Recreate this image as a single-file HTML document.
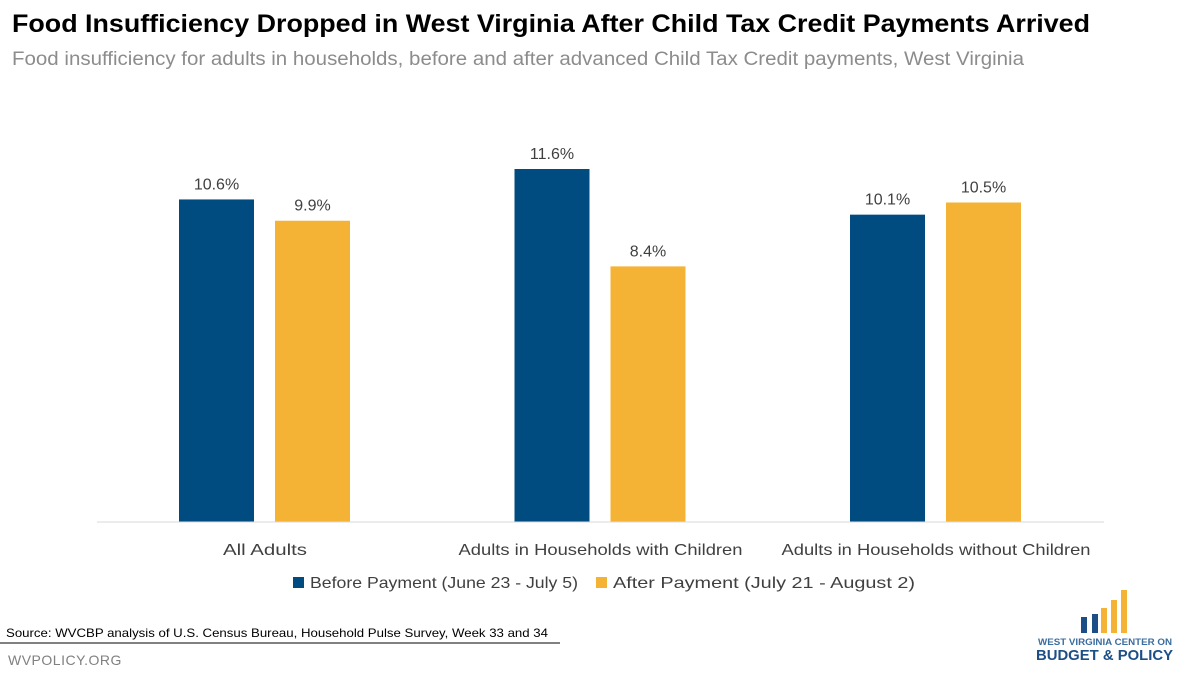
<!DOCTYPE html>
<html><head><meta charset="utf-8"><style>
body{margin:0;background:#fff;}
svg{display:block;font-family:"Liberation Sans",sans-serif;}
</style></head><body>
<svg width="1200" height="675" viewBox="0 0 1200 675">
<text x="12" y="32" font-size="25" font-weight="bold" fill="#000" textLength="1078" lengthAdjust="spacingAndGlyphs">Food Insufficiency Dropped in West Virginia After Child Tax Credit Payments Arrived</text>
<text x="12" y="65" font-size="19" fill="#8c8c8c" textLength="1012" lengthAdjust="spacingAndGlyphs">Food insufficiency for adults in households, before and after advanced Child Tax Credit payments, West Virginia</text>
<g id="plot"></g>
<line x1="97" y1="522" x2="1104" y2="522" stroke="#d9d9d9" stroke-width="1"/>
<g>
<rect x="293" y="577" width="11" height="11" fill="#004b80"/>
<text x="310" y="588" font-size="16" fill="#404040" textLength="268" lengthAdjust="spacingAndGlyphs">Before Payment (June 23 - July 5)</text>
<rect x="596" y="577" width="11" height="11" fill="#f5b335"/>
<text x="613" y="588" font-size="16" fill="#404040" textLength="302" lengthAdjust="spacingAndGlyphs">After Payment (July 21 - August 2)</text>
</g>
<text x="6" y="637" font-size="12" fill="#000" textLength="542" lengthAdjust="spacingAndGlyphs">Source:  WVCBP analysis of U.S. Census Bureau, Household Pulse Survey, Week 33 and 34</text>
<line x1="0" y1="643" x2="560" y2="643" stroke="#000" stroke-width="1"/>
<text x="8" y="665" font-size="14" fill="#808080" letter-spacing="0.5">WVPOLICY.ORG</text>
<g>
<rect x="1081" y="617" width="6" height="16" fill="#1d4f86"/>
<rect x="1092" y="614" width="6" height="19" fill="#1d4f86"/>
<rect x="1101" y="608" width="6" height="25" fill="#f5b335"/>
<rect x="1111" y="600" width="6" height="33" fill="#f5b335"/>
<rect x="1121" y="590" width="6" height="43" fill="#f5b335"/>
<text x="1038" y="645" font-size="9" font-weight="bold" fill="#3a6da0" textLength="134" lengthAdjust="spacingAndGlyphs">WEST VIRGINIA CENTER ON</text>
<text x="1036" y="660" font-size="15" font-weight="bold" fill="#1d4f86" textLength="137" lengthAdjust="spacingAndGlyphs">BUDGET &amp; POLICY</text>
</g>
</svg>
<script>
const categories = ["All Adults", "Adults in Households with Children", "Adults in Households without Children"];
const beforeValues = [10.6, 11.6, 10.1];
const afterValues = [9.9, 8.4, 10.5];
const valueLabelsBefore = ["10.6%", "11.6%", "10.1%"];
const valueLabelsAfter = ["9.9%", "8.4%", "10.5%"];
const NS = "http://www.w3.org/2000/svg";
const g = document.getElementById("plot");
const baseY = 522, pxPer = 30.43;
function y(v){ return baseY - v*pxPer; }
function cx(i){ return 265 + i*335.5; }
const barW = 75;
function mk(tag, attrs){ const e=document.createElementNS(NS,tag); for(const k in attrs) e.setAttribute(k,attrs[k]); g.appendChild(e); return e; }
categories.forEach((c,i)=>{
  [[beforeValues[i], valueLabelsBefore[i], "#004b80", -1, "before"], [afterValues[i], valueLabelsAfter[i], "#f5b335", 1, "after"]].forEach(([v,lab,col,side,nm])=>{
    const x = side<0 ? cx(i)-86 : cx(i)+10;
    const r = mk("rect",{x:x, y:y(v), width:barW, height:baseY-y(v), fill:col});
    
    
    const t = mk("text",{x:x+barW/2, y:y(v)-10, "font-size":16, fill:"#404040", "text-anchor":"middle"});
    t.textContent = lab;
    
    
  });
  const t = mk("text",{x:cx(i), y:555, "font-size":16, fill:"#404040", "text-anchor":"middle", textLength: Math.round(c.length*8.35), lengthAdjust:"spacingAndGlyphs"});
  t.textContent = c;
  
  
});
</script>
</body></html>
